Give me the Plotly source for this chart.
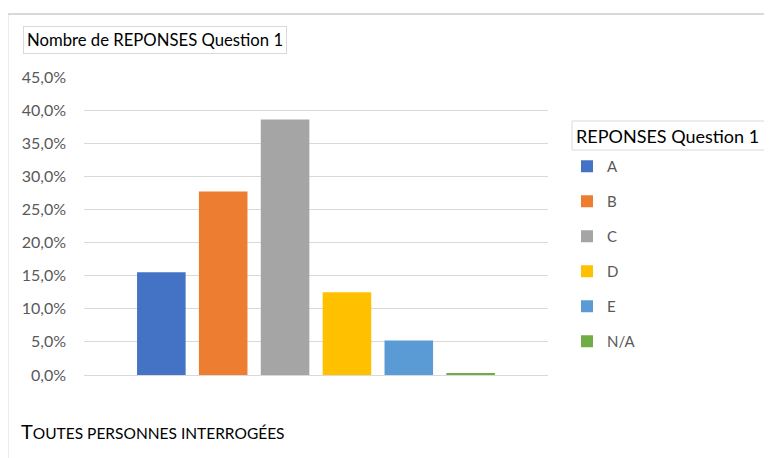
import plotly.graph_objects as go

series = ["A", "B", "C", "D", "E", "N/A"]
values = [0.155, 0.277, 0.386, 0.125, 0.052, 0.003]
colors = ["#4472C4", "#ED7D31", "#A5A5A5", "#FFC000", "#5B9BD5", "#70AD47"]
category = ["Toutes personnes interrogées"]
ytickvals = [0, 0.05, 0.10, 0.15, 0.20, 0.25, 0.30, 0.35, 0.40, 0.45]

# page body has an 8px margin: work in window coordinates, convert to figure
O = 8
W, H = 772 - O, 458 - O
L, R, T, B = 84 - O, 772 - 548, 77 - O, 458 - 375
pw, ph = W - L - R, H - T - B

def px(x):
    return (x - O - L) / pw

def py(y):
    return (H - B - (y - O)) / ph

FONT = "Lato, Carlito, 'Open Sans', sans-serif"

fig = go.Figure()
for s, v, c in zip(series, values, colors):
    fig.add_trace(go.Bar(
        x=category, y=[v], name=s, marker_color=c,
        marker_line_width=0, legendgroup=s,
    ))

fig.update_layout(
    width=W, height=H,
    margin=dict(l=L, r=R, t=T, b=B, autoexpand=False),
    paper_bgcolor="white", plot_bgcolor="white",
    separators=", ",
    barmode="group", bargap=0.2, bargroupgap=0.215,
    font=dict(family=FONT, color="#595959", size=15),
    xaxis=dict(showticklabels=False, showgrid=False, zeroline=False,
               showline=True, linecolor="#D9D9D9", linewidth=1),
    yaxis=dict(range=[0, 0.45], tickvals=ytickvals, tickformat=".1%",
               showgrid=True, gridcolor="#D9D9D9", gridwidth=1,
               zeroline=False, ticks="", ticklabelstandoff=17,
               tickfont=dict(size=16, color="#595959")),
    legend=dict(
        x=px(567), xanchor="left", y=py(150), yanchor="top",
        font=dict(size=15, color="#595959"),
        traceorder="grouped", tracegroupgap=12.5,
        bgcolor="rgba(0,0,0,0)",
    ),
    showlegend=True,
)

shapes = [
    # outer chart border (left and top)
    dict(type="line", xref="paper", yref="paper", x0=px(7.5), x1=px(7.5),
         y0=py(14), y1=py(470), line=dict(color="#D9D9D9", width=2)),
    dict(type="line", xref="paper", yref="paper", x0=px(7), x1=px(780),
         y0=py(14), y1=py(14), line=dict(color="#D9D9D9", width=2)),
    # legend title box
    dict(type="rect", xref="paper", yref="paper", x0=px(572), x1=px(780),
         y0=py(121), y1=py(150), line=dict(color="#D9D9D9", width=1)),
]
fig.update_layout(shapes=shapes)

# legend title
fig.add_annotation(
    text="REPONSES Question 1", xref="paper", yref="paper",
    x=px(574), y=py(135.5), xanchor="left", yanchor="middle", showarrow=False,
    font=dict(size=18, color="#000000", family=FONT),
)
# chart title
fig.add_annotation(
    text="Nombre de REPONSES Question 1", xref="paper", yref="paper",
    x=px(23), y=py(26), xanchor="left", yanchor="top", showarrow=False,
    font=dict(size=16.7, color="#000000", family=FONT),
    bordercolor="#D9D9D9", borderwidth=1, borderpad=3,
)
fig.add_annotation(
    text="T<span style='font-size:15.5px'>OUTES PERSONNES INTERROGÉES</span>",
    xref="paper", yref="paper", x=px(19), y=py(431), xanchor="left",
    yanchor="middle", showarrow=False,
    font=dict(size=20, color="#000000", family=FONT),
)

fig.write_html("out.html")
